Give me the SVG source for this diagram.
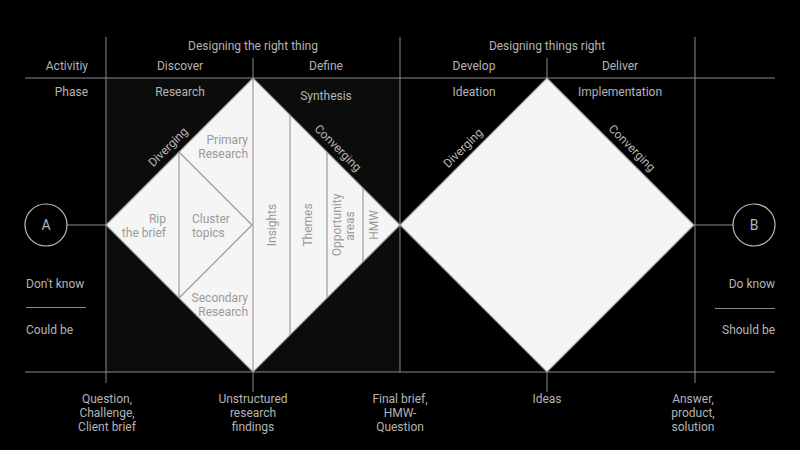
<svg xmlns="http://www.w3.org/2000/svg" width="800" height="450" viewBox="0 0 800 450">
<style>
.t{font-family:Roboto,"Liberation Sans",sans-serif;font-size:12px;fill:#b4b4b4}
.m{text-anchor:middle}
.e{text-anchor:end}
.d{font-family:Roboto,"Liberation Sans",sans-serif;font-size:12px;fill:#9a9a9a}
.ln{stroke:#8a8a8a;stroke-width:1;fill:none}
.dia{fill:#f5f5f5;stroke:#9a9a9a;stroke-width:1.2}
.in{stroke:#9a9a9a;stroke-width:1.2;fill:none}
.c{fill:none;stroke:#bdbdbd;stroke-width:1.2}
</style>
<rect width="800" height="450" fill="#000"/>
<rect x="106" y="78" width="294" height="294" fill="#0c0c0c"/>
<g id="grid">
<line class="ln" x1="25" y1="78" x2="775" y2="78"/>
<line class="ln" x1="25" y1="372" x2="775" y2="372"/>
<line class="ln" x1="106" y1="37" x2="106" y2="383"/>
<line class="ln" x1="400" y1="37" x2="400" y2="372"/>
<line class="ln" x1="695" y1="37" x2="695" y2="383"/>
<line class="ln" x1="253" y1="58" x2="253" y2="78"/>
<line class="ln" x1="547" y1="58" x2="547" y2="78"/>
<line class="ln" x1="253" y1="372" x2="253" y2="392"/>
<line class="ln" x1="547" y1="372" x2="547" y2="392"/>
<line class="ln" x1="26" y1="307.5" x2="86" y2="307.5"/>
<line class="ln" x1="715" y1="308.5" x2="775" y2="308.5"/>
</g>
<g id="headers">
<text class="t m" x="253" y="50">Designing the right thing</text>
<text class="t m" x="547" y="50">Designing things right</text>
<text class="t e" x="88" y="70">Activitiy</text>
<text class="t m" x="180" y="70">Discover</text>
<text class="t m" x="326" y="70">Define</text>
<text class="t m" x="474" y="70">Develop</text>
<text class="t m" x="620" y="70">Deliver</text>
<text class="t e" x="88" y="96">Phase</text>
<text class="t m" x="180" y="96">Research</text>
<text class="t m" x="326" y="100">Synthesis</text>
<text class="t m" x="474" y="96">Ideation</text>
<text class="t m" x="620" y="96">Implementation</text>
</g>
<g id="connectors">
<line class="ln" x1="67" y1="225" x2="106" y2="225"/>
<line class="ln" x1="694" y1="225" x2="733" y2="225"/>
</g>
<g id="nodeA">
<circle class="c" cx="46" cy="225" r="21"/>
<text class="t m" x="46" y="230" style="font-size:14px">A</text>
</g>
<g id="nodeB">
<circle class="c" cx="754" cy="225" r="21"/>
<text class="t m" x="754" y="230" style="font-size:14px">B</text>
</g>
<g id="diamond1">
<polygon class="dia" points="106,225 253,78 400,225 253,372"/>
<polyline class="in" points="179,152 252,225 179,298"/>
<line class="in" x1="179" y1="152" x2="179" y2="298"/>
<line class="in" x1="253" y1="78" x2="253" y2="372"/>
<line class="in" x1="290" y1="115" x2="290" y2="335"/>
<line class="in" x1="327" y1="152" x2="327" y2="298"/>
<line class="in" x1="363" y1="188" x2="363" y2="262"/>
<text class="d e" x="248" y="144">Primary</text>
<text class="d e" x="248" y="158">Research</text>
<text class="d e" x="248" y="302">Secondary</text>
<text class="d e" x="248" y="316">Research</text>
<text class="d e" x="166" y="223">Rip</text>
<text class="d e" x="166" y="237">the brief</text>
<text class="d" x="192" y="223">Cluster</text>
<text class="d" x="192" y="237">topics</text>
<text class="d m" transform="translate(272,225) rotate(-90)" y="4">Insights</text>
<text class="d m" transform="translate(308,225) rotate(-90)" y="4">Themes</text>
<text class="d m" transform="translate(337,225) rotate(-90)" y="4">Opportunity</text>
<text class="d m" transform="translate(350,226) rotate(-90)" y="4">areas</text>
<text class="d m" transform="translate(374,225) rotate(-90)" y="4">HMW</text>
<text class="t m" transform="translate(168,147) rotate(-45)" y="4">Diverging</text>
<text class="t m" transform="translate(338,148) rotate(45)" y="4">Converging</text>
</g>
<g id="diamond2">
<polygon class="dia" points="400,225 547,78 694,225 547,372"/>
<text class="t m" transform="translate(463,148) rotate(-45)" y="4">Diverging</text>
<text class="t m" transform="translate(632,148) rotate(45)" y="4">Converging</text>
</g>
<g id="sides">
<text class="t" x="26" y="288">Don't know</text>
<text class="t" x="26" y="334">Could be</text>
<text class="t e" x="775" y="288">Do know</text>
<text class="t e" x="775" y="334">Should be</text>
</g>
<g id="bottom">
<text class="t m" x="107" y="403">Question,</text>
<text class="t m" x="107" y="417">Challenge,</text>
<text class="t m" x="107" y="431">Client brief</text>
<text class="t m" x="253" y="403">Unstructured</text>
<text class="t m" x="253" y="417">research</text>
<text class="t m" x="253" y="431">findings</text>
<text class="t m" x="400" y="403">Final brief,</text>
<text class="t m" x="400" y="417">HMW-</text>
<text class="t m" x="400" y="431">Question</text>
<text class="t m" x="547" y="403">Ideas</text>
<text class="t m" x="693" y="403">Answer,</text>
<text class="t m" x="693" y="417">product,</text>
<text class="t m" x="693" y="431">solution</text>
</g>
</svg>
